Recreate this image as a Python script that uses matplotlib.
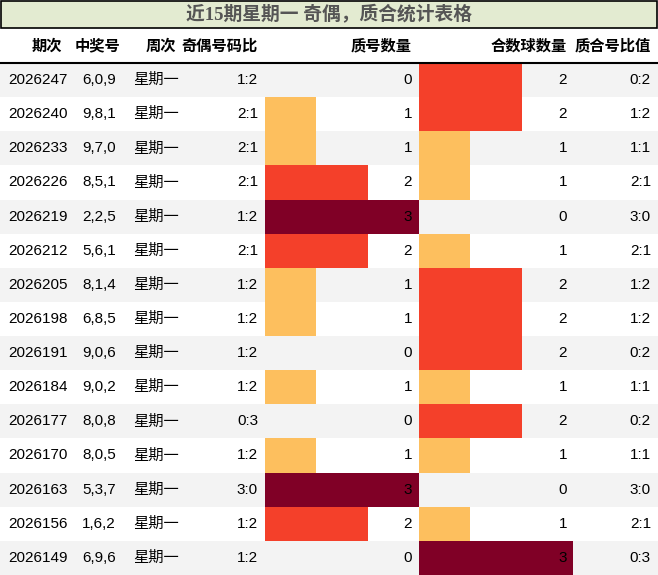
import matplotlib.pyplot as plt
from matplotlib.patches import Rectangle

plt.rcParams['font.family'] = ['Liberation Sans Narrow', 'Liberation Sans', 'Noto Sans CJK SC', 'DejaVu Sans']

issues = ['2026247', '2026240', '2026233', '2026226', '2026219', '2026212', '2026205', '2026198',
          '2026191', '2026184', '2026177', '2026170', '2026163', '2026156', '2026149']
numbers = ['6,0,9', '9,8,1', '9,7,0', '8,5,1', '2,2,5', '5,6,1', '8,1,4', '6,8,5',
           '9,0,6', '9,0,2', '8,0,8', '8,0,5', '5,3,7', '1,6,2', '6,9,6']
odd_even = ['1:2', '2:1', '2:1', '2:1', '1:2', '2:1', '1:2', '1:2',
            '1:2', '1:2', '0:3', '1:2', '3:0', '1:2', '1:2']
primes = [0, 1, 1, 2, 3, 2, 1, 1, 0, 1, 0, 1, 3, 2, 0]
composites = [2, 2, 1, 1, 0, 1, 2, 2, 2, 1, 2, 1, 0, 1, 3]
headers = ['期次', '中奖号', '周次', '奇偶号码比', '质号数量', '合数球数量', '质合号比值']
title = '近15期星期一 奇偶，质合统计表格'

colors = {1: '#fdbf5e', 2: '#f4402a', 3: '#800026'}

W, H = 658, 575
fig = plt.figure(figsize=(W / 100, H / 100), dpi=100)
ax = fig.add_axes([0, 0, 1, 1])
ax.set_xlim(0, W)
ax.set_ylim(H, 0)
ax.axis('off')

# title bar
ax.add_patch(Rectangle((1, 1), W - 2, 27, facecolor='#e3ebd1', edgecolor='black', lw=1.2))
ax.text(W / 2, 15, title, ha='center', va='center', fontsize=13.5, fontweight='bold',
        color='#555555', family=['Liberation Serif', 'Noto Sans CJK SC'])

top, rh = 63, 34.13
hdr_x = [62, 120, 176, 258, 412, 567, 651]
for x, h in zip(hdr_x, headers):
    ax.text(x, 46, h, ha='right', va='center', fontsize=11, fontweight='bold')
ax.plot([0, W], [top, top], color='black', lw=1.5)

bar_w = 51.3
for i in range(len(issues)):
    y = top + i * rh
    if i % 2 == 0:
        ax.add_patch(Rectangle((0, y), W, rh, facecolor='#f3f3f3', edgecolor='none', zorder=0))
    cy = y + rh / 2
    if primes[i]:
        ax.barh(cy, primes[i] * bar_w, height=rh, left=265, color=colors[primes[i]], zorder=1)
    if composites[i]:
        ax.barh(cy, composites[i] * bar_w, height=rh, left=419, color=colors[composites[i]], zorder=1)
    ax.text(8, cy, issues[i], ha='left', va='center', fontsize=11)
    ax.text(116, cy, numbers[i], ha='right', va='center', fontsize=11)
    ax.text(133, cy, '星期一', ha='left', va='center', fontsize=11)
    ax.text(258, cy, odd_even[i], ha='right', va='center', fontsize=11)
    ax.text(412, cy, str(primes[i]), ha='right', va='center', fontsize=11, zorder=2)
    ax.text(567, cy, str(composites[i]), ha='right', va='center', fontsize=11, zorder=2)
    ax.text(651, cy, f'{primes[i]}:{composites[i]}', ha='right', va='center', fontsize=11)

fig.savefig('out.png', dpi=100)
